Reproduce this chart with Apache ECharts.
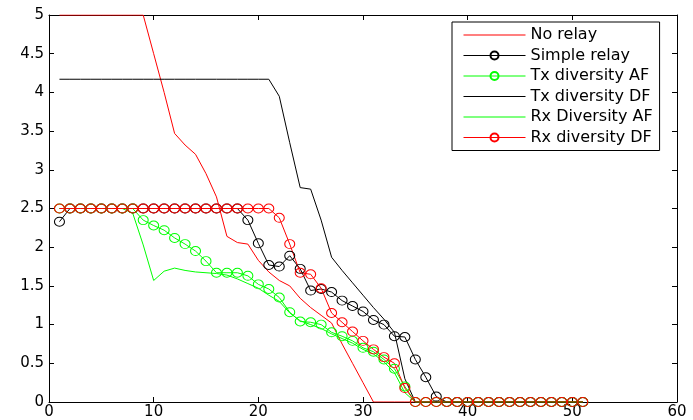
<!DOCTYPE html>
<html>
<head>
<meta charset="utf-8">
<script src="https://cdn.jsdelivr.net/npm/echarts@6/dist/echarts.min.js"></script>
<style>
  html, body { margin: 0; padding: 0; background: #fff; }
  #chart { width: 693px; height: 420px; }
</style>
</head>
<body>
<div id="chart"></div>
<script>
// Sample positions along the horizontal axis
const xs = [1,2,3,4,5,6,7,8,9,10,11,12,13,14,15,16,17,18,19,20,21,22,23,24,25,26,
            27,28,29,30,31,32,33,34,35,36,37,38,39,40,41,42,43,44,45,46,47,48,49,50,51];

const seriesNames = ['No relay', 'Simple relay', 'Tx diversity AF', 'Tx diversity DF',
                     'Rx Diversity AF', 'Rx diversity DF'];

const noRelay = [5,5,5,5,5,5,5,5,5,4.5,4.0,3.47,3.32,3.2,2.95,2.65,2.14,2.06,2.04,1.83,
                 1.68,1.57,1.5,1.34,1.22,1.12,1.02,0.75,0.5,0.25,0,
                 0,0,0,0,0,0,0,0,0,0,0,0,0,0,0,0,0,0,0,0];

const simpleRelay = [2.33,2.5,2.5,2.5,2.5,2.5,2.5,2.5,2.5,2.5,2.5,2.5,2.5,2.5,2.5,2.5,2.5,2.5,
                     2.35,2.05,1.77,1.75,1.89,1.72,1.44,1.46,1.42,1.31,1.24,1.17,1.06,1.0,
                     0.85,0.84,0.55,0.32,0.07,
                     0,0,0,0,0,0,0,0,0,0,0,0,0,0];

const txDiversityAF = [2.5,2.5,2.5,2.5,2.5,2.5,2.5,2.5,2.35,2.28,2.22,2.12,2.04,1.95,1.82,
                       1.67,1.67,1.67,1.63,1.52,1.46,1.35,1.16,1.04,1.03,1.0,0.9,0.85,0.79,
                       0.7,0.65,0.55,0.43,0.2,
                       0,0,0,0,0,0,0,0,0,0,0,0,0,0,0,0,0];

const txDiversityDF = [4.17,4.17,4.17,4.17,4.17,4.17,4.17,4.17,4.17,4.17,4.17,4.17,4.17,4.17,
                       4.17,4.17,4.17,4.17,4.17,4.17,4.17,3.95,3.35,2.77,2.75,2.35,1.87,1.7,
                       1.54,1.38,1.22,1.07,0.9,0.3,
                       0,0,0,0,0,0,0,0,0,0,0,0,0,0,0,0,0];

const rxDiversityAF = [2.5,2.5,2.5,2.5,2.5,2.5,2.5,2.44,2.03,1.57,1.69,1.73,1.7,1.68,1.67,
                       1.66,1.64,1.59,1.53,1.47,1.38,1.3,1.15,1.05,1.0,0.95,0.88,0.82,0.76,
                       0.68,0.62,0.52,0.38,0.12,
                       0,0,0,0,0,0,0,0,0,0,0,0,0,0,0,0,0];

const rxDiversityDF = [2.5,2.5,2.5,2.5,2.5,2.5,2.5,2.5,2.5,2.5,2.5,2.5,2.5,2.5,2.5,2.5,2.5,
                       2.5,2.5,2.5,2.5,2.38,2.04,1.67,1.65,1.47,1.15,1.03,0.91,0.79,0.68,
                       0.58,0.5,0.18,
                       0,0,0,0,0,0,0,0,0,0,0,0,0,0,0,0,0];

const xTicks = [0, 60, 10];   // min, max, step
const yTicks = [0, 5, 0.5];

const FONT = 'DejaVu Sans';

// Thin horizontal bar used as the legend key of the lines drawn without markers
const LINE_ICON = 'path://M0,0 L62,0 L62,1 L0,1 Z';

function pairs(vals) {
  return xs.map((x, i) => [x, vals[i]]);
}

function plainLine(name, vals, color) {
  return {
    name: name,
    type: 'line',
    data: pairs(vals),
    symbol: 'none',
    color: color,
    lineStyle: { color: color, width: 1 },
    itemStyle: { color: color },
    emphasis: { disabled: true },
    z: 2
  };
}

function markedLine(name, vals, color) {
  return {
    name: name,
    type: 'line',
    data: pairs(vals),
    symbol: 'circle',
    symbolSize: [10, 9],
    showSymbol: true,
    color: color,
    lineStyle: { color: color, width: 1 },
    itemStyle: { color: 'rgba(255,255,255,0)', borderColor: color, borderWidth: 1 },
    emphasis: { disabled: true },
    z: 2
  };
}

const plainNames = [seriesNames[0], seriesNames[3], seriesNames[4]];

const chart = echarts.init(document.getElementById('chart'), null, { renderer: 'canvas' });

const axisCommon = {
  axisLine: { show: true, onZero: false, lineStyle: { color: '#000', width: 1 } },
  axisTick: { show: true, inside: true, length: 5, lineStyle: { color: '#000', width: 1 } },
  splitLine: { show: false }
};

chart.setOption({
  animation: false,
  backgroundColor: '#fff',
  grid: { left: 49, right: 16, top: 15, bottom: 17, containLabel: false },
  xAxis: [
    Object.assign({
      type: 'value', position: 'bottom',
      min: xTicks[0], max: xTicks[1], interval: xTicks[2],
      axisLabel: { color: '#000', fontFamily: FONT, fontSize: 15, margin: 3 }
    }, axisCommon),
    Object.assign({
      type: 'value', position: 'top',
      min: xTicks[0], max: xTicks[1], interval: xTicks[2],
      axisLabel: { show: false }
    }, axisCommon)
  ],
  yAxis: [
    Object.assign({
      type: 'value', position: 'left',
      min: yTicks[0], max: yTicks[1], interval: yTicks[2],
      axisLabel: { color: '#000', fontFamily: FONT, fontSize: 15, margin: 5 }
    }, axisCommon),
    Object.assign({
      type: 'value', position: 'right',
      min: yTicks[0], max: yTicks[1], interval: yTicks[2],
      axisLabel: { show: false }
    }, axisCommon)
  ],
  legend: {
    data: seriesNames.map(n => plainNames.includes(n) ? { name: n, icon: LINE_ICON } : { name: n }),
    orient: 'vertical',
    left: 452,
    top: 22,
    itemWidth: 62,
    itemHeight: 10,
    itemGap: 4.5,
    padding: [5, 7, 5, 11],
    borderColor: '#000',
    borderWidth: 1,
    backgroundColor: '#fff',
    lineStyle: { width: 1 },
    textStyle: { color: '#000', fontFamily: FONT, fontSize: 16 },
    selectedMode: false
  },
  series: [
    plainLine(seriesNames[0], noRelay, '#ff0000'),
    markedLine(seriesNames[1], simpleRelay, '#000000'),
    markedLine(seriesNames[2], txDiversityAF, '#00ff00'),
    plainLine(seriesNames[3], txDiversityDF, '#000000'),
    plainLine(seriesNames[4], rxDiversityAF, '#00ff00'),
    markedLine(seriesNames[5], rxDiversityDF, '#ff0000')
  ]
});
</script>
</body>
</html>
